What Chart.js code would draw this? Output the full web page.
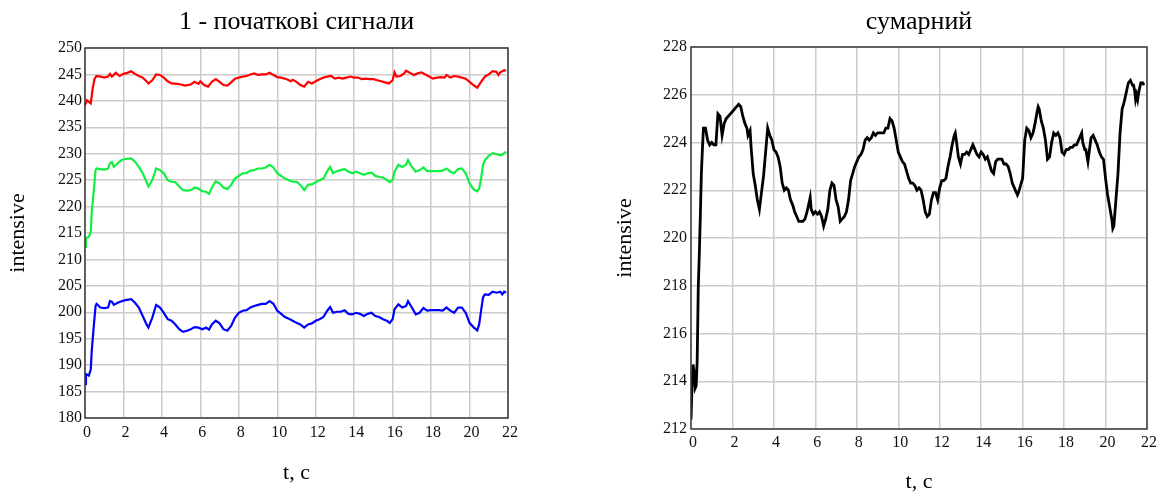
<!DOCTYPE html>
<html lang="uk">
<head>
  <meta charset="UTF-8">
  <title>Сигнали</title>
  <script src="https://cdn.jsdelivr.net/npm/chart.js"></script>
  <style>
    html, body {
      margin: 0;
      padding: 0;
      background: #fff;
    }
    .wrap {
      position: relative;
      width: 1164px;
      height: 495px;
    }
    canvas {
      position: absolute;
      top: 0;
    }
    #signals { left: 0; }
    #total { left: 580px; }
  </style>
</head>
<body>
  <div class="wrap">
    <canvas id="signals" width="580" height="495"></canvas>
    <canvas id="total" width="584" height="495"></canvas>
  </div>

  <script>
    // time, s
    const tRed = [0, 0.1, 0.2, 0.3, 0.4, 0.5, 0.6, 0.8, 1.0, 1.2, 1.3, 1.4, 1.6, 1.8, 2.0, 2.2, 2.4, 2.6, 2.8, 3.0,
      3.2, 3.3, 3.5, 3.7, 3.9, 4.1, 4.3, 4.5, 4.8, 5.0, 5.2, 5.5, 5.7, 5.9, 6.0, 6.2, 6.4, 6.6, 6.8, 7.0,
      7.2, 7.4, 7.6, 7.8, 8.0, 8.2, 8.4, 8.6, 8.8, 9.0, 9.2, 9.4, 9.6, 9.8, 10.0, 10.2, 10.5, 10.7, 10.8, 11.0,
      11.2, 11.4, 11.6, 11.8, 12.0, 12.2, 12.4, 12.6, 12.8, 13.0, 13.2, 13.4, 13.6, 13.8, 14.0, 14.2, 14.4, 14.6, 14.8, 15.0,
      15.2, 15.4, 15.6, 15.8, 16.0, 16.1, 16.2, 16.4, 16.6, 16.7, 16.9, 17.1, 17.3, 17.5, 17.7, 17.9, 18.1, 18.3, 18.5, 18.7,
      18.8, 19.0, 19.2, 19.4, 19.6, 19.8, 20.0, 20.2, 20.4, 20.6, 20.8, 21.0, 21.2, 21.4, 21.5, 21.6, 21.8, 21.9];
    const red = [239.2, 240.1, 239.8, 239.5, 242.4, 244.2, 244.7, 244.6, 244.4, 244.6, 245.1, 244.6, 245.3, 244.7, 245.1, 245.3, 245.6, 245.1, 244.7, 244.4,
      243.7, 243.3, 243.9, 245.0, 244.9, 244.4, 243.7, 243.3, 243.2, 243.1, 242.9, 243.1, 243.6, 243.2, 243.7, 243.0, 242.7, 243.6, 244.1, 243.6,
      243.0, 242.9, 243.5, 244.2, 244.4, 244.6, 244.7, 245.0, 245.2, 244.9, 245.0, 245.0, 245.3, 244.9, 244.5, 244.4, 244.1, 243.7, 244.0, 243.6,
      243.0, 242.7, 243.6, 243.3, 243.7, 244.1, 244.4, 244.6, 244.7, 244.2, 244.4, 244.2, 244.4, 244.6, 244.4, 244.4, 244.1, 244.2, 244.1, 244.1,
      243.9, 243.7, 243.5, 243.3, 243.9, 245.4, 244.6, 244.7, 245.2, 245.7, 245.3, 244.9, 245.2, 245.4, 245.0, 244.6, 244.2, 244.4, 244.5, 244.4,
      244.9, 244.4, 244.7, 244.6, 244.4, 244.2, 243.6, 243.0, 242.5, 243.6, 244.6, 245.0, 245.6, 245.5, 244.9, 245.4, 245.8, 245.7];

    const tGB = [0, 0.05, 0.2, 0.3, 0.35, 0.45, 0.55, 0.6, 0.8, 1.0, 1.2, 1.3, 1.4, 1.5, 1.7, 1.9, 2.1, 2.4, 2.6, 2.8,
      3.0, 3.2, 3.3, 3.5, 3.7, 3.9, 4.1, 4.3, 4.5, 4.7, 4.9, 5.1, 5.3, 5.5, 5.7, 5.9, 6.1, 6.3, 6.45, 6.6,
      6.8, 7.0, 7.2, 7.4, 7.6, 7.8, 8.0, 8.2, 8.4, 8.6, 8.8, 9.0, 9.2, 9.4, 9.6, 9.8, 10.0, 10.2, 10.4, 10.6,
      10.8, 11.0, 11.2, 11.4, 11.6, 11.8, 12.0, 12.2, 12.4, 12.6, 12.75, 12.9, 13.1, 13.3, 13.5, 13.7, 13.9, 14.1, 14.3, 14.5,
      14.7, 14.9, 15.1, 15.3, 15.5, 15.7, 15.85, 16.0, 16.1, 16.3, 16.5, 16.7, 16.8, 17.0, 17.2, 17.4, 17.6, 17.8, 18.0, 18.2,
      18.4, 18.6, 18.8, 19.0, 19.2, 19.4, 19.6, 19.8, 20.0, 20.2, 20.4, 20.5, 20.6, 20.7, 20.8, 21.0, 21.2, 21.4, 21.6, 21.7,
      21.8, 21.9];
    const green = [212.4, 214.0, 214.3, 215.2, 219.0, 222.8, 226.9, 227.2, 227.1, 227.0, 227.2, 228.2, 228.4, 227.5, 228.2, 228.8, 229.0, 229.1, 228.5, 227.5,
      226.3, 224.7, 223.8, 225.0, 227.2, 226.9, 226.3, 225.0, 224.7, 224.6, 223.8, 223.1, 223.0, 223.1, 223.6, 223.4, 222.9, 222.8, 222.4, 223.6,
      224.8, 224.4, 223.6, 223.3, 224.1, 225.3, 225.8, 226.3, 226.3, 226.8, 226.9, 227.2, 227.2, 227.4, 227.9, 227.4, 226.3, 225.8, 225.3, 225.0,
      224.7, 224.7, 224.1, 223.1, 224.1, 224.2, 224.6, 225.0, 225.3, 226.7, 227.5, 226.3, 226.7, 226.9, 227.1, 226.6, 226.3, 226.6, 226.3, 226.0,
      226.3, 226.4, 225.8, 225.6, 225.5, 225.0, 224.6, 225.0, 226.6, 227.9, 227.5, 227.9, 228.8, 227.5, 226.6, 226.9, 227.4, 226.7, 226.7, 226.7,
      226.7, 226.8, 227.2, 226.6, 226.3, 227.1, 227.2, 226.3, 224.4, 223.3, 222.9, 223.4, 225.3, 227.9, 228.8, 229.6, 230.1, 229.9, 229.7, 229.8,
      230.1, 230.4];
    const blue = [186.4, 188.3, 188.0, 189.2, 192.7, 197.1, 201.2, 201.6, 200.9, 200.8, 200.9, 202.1, 202.0, 201.4, 201.8, 202.1, 202.3, 202.5, 201.8, 200.9,
      199.3, 197.7, 197.1, 199.0, 201.4, 200.9, 199.9, 198.7, 198.4, 197.7, 196.8, 196.3, 196.5, 196.8, 197.2, 197.1, 196.8, 197.1, 196.7, 197.7,
      198.4, 197.9, 196.8, 196.5, 197.4, 199.0, 199.9, 200.3, 200.4, 200.9, 201.2, 201.4, 201.6, 201.6, 202.1, 201.6, 200.3, 199.7, 199.1, 198.8,
      198.4, 198.0, 197.7, 197.1, 197.7, 197.9, 198.4, 198.7, 199.1, 200.3, 201.0, 199.9, 200.1, 200.1, 200.4, 199.7, 199.6, 199.9, 199.7, 199.3,
      199.7, 199.9, 199.3, 199.1, 198.7, 198.4, 198.0, 198.7, 200.6, 201.5, 200.9, 201.2, 202.1, 200.9, 199.6, 199.9, 200.8, 200.3, 200.4, 200.4,
      200.4, 200.3, 200.9, 200.3, 199.9, 200.9, 200.9, 199.9, 198.0, 197.2, 196.6, 197.7, 200.3, 202.8, 203.4, 203.3, 203.9, 203.7, 203.9, 203.4,
      203.9, 203.7];

    const tSum = [0, 0.05, 0.1, 0.15, 0.2, 0.25, 0.3, 0.35, 0.4, 0.45, 0.5, 0.55, 0.6, 0.7, 0.8, 0.9, 1.0, 1.1, 1.2, 1.3,
      1.4, 1.5, 1.6, 1.7, 1.8, 1.9, 2.0, 2.1, 2.2, 2.3, 2.4, 2.5, 2.6, 2.7, 2.75, 2.85, 2.9, 3.0, 3.1, 3.2,
      3.3, 3.4, 3.5, 3.6, 3.7, 3.8, 3.9, 4.0, 4.1, 4.2, 4.3, 4.4, 4.5, 4.6, 4.7, 4.8, 4.9, 5.0, 5.1, 5.2,
      5.4, 5.5, 5.6, 5.7, 5.75, 5.8, 5.9, 6.0, 6.1, 6.2, 6.3, 6.4, 6.5, 6.6, 6.7, 6.8, 6.9, 7.0, 7.1, 7.2,
      7.3, 7.4, 7.5, 7.6, 7.7, 7.8, 7.9, 8.0, 8.1, 8.2, 8.3, 8.4, 8.5, 8.6, 8.7, 8.8, 8.9, 9.0, 9.1, 9.2,
      9.3, 9.4, 9.5, 9.6, 9.7, 9.8, 9.9, 10.0, 10.1, 10.2, 10.3, 10.4, 10.5, 10.6, 10.7, 10.8, 10.9, 11.0, 11.1, 11.2,
      11.3, 11.4, 11.5, 11.6, 11.7, 11.8, 11.9, 12.0, 12.1, 12.2, 12.3, 12.4, 12.5, 12.6, 12.7, 12.75, 12.8, 12.9, 13.0, 13.1,
      13.2, 13.3, 13.4, 13.5, 13.6, 13.7, 13.8, 13.9, 14.0, 14.1, 14.2, 14.3, 14.4, 14.5, 14.6, 14.7, 14.8, 14.9, 15.0, 15.1,
      15.2, 15.3, 15.4, 15.5, 15.6, 15.7, 15.75, 15.8, 15.9, 16.0, 16.1, 16.2, 16.3, 16.4, 16.5, 16.6, 16.7, 16.75, 16.8, 16.9,
      17.0, 17.1, 17.2, 17.3, 17.4, 17.5, 17.6, 17.7, 17.8, 17.9, 18.0, 18.1, 18.2, 18.3, 18.4, 18.5, 18.6, 18.7, 18.8, 18.85,
      18.9, 19.0, 19.05, 19.15, 19.3, 19.4, 19.5, 19.6, 19.7, 19.8, 19.9, 20.0, 20.1, 20.2, 20.3, 20.35, 20.4, 20.5, 20.6, 20.7,
      20.8, 20.9, 21.0, 21.1, 21.2, 21.3, 21.35, 21.4, 21.45, 21.5, 21.55, 21.6, 21.7, 21.8, 21.85];
    const sum = [212.4, 213.8, 214.7, 214.4, 213.7, 213.8, 214.9, 217.9, 219.3, 220.9, 222.7, 223.7, 224.6, 224.6, 224.1, 223.9, 224.0, 223.9, 223.9, 225.2,
      225.1, 224.3, 224.8, 225.0, 225.1, 225.2, 225.3, 225.4, 225.5, 225.6, 225.5, 225.1, 224.8, 224.6, 224.3, 224.5, 223.8, 222.7, 222.2, 221.6,
      221.2, 221.9, 222.6, 223.6, 224.6, 224.3, 224.1, 223.7, 223.6, 223.4, 223.0, 222.3, 222.0, 222.1, 222.0, 221.6, 221.4, 221.1, 220.9, 220.7,
      220.7, 220.8, 221.1, 221.5, 221.7, 221.2, 221.0, 221.1, 221.0, 221.1, 220.9, 220.5, 220.8, 221.2, 222.0, 222.3, 222.2, 221.6, 221.3, 220.7,
      220.8, 220.9, 221.1, 221.6, 222.4, 222.7, 223.0, 223.2, 223.4, 223.5, 223.7, 224.1, 224.2, 224.1, 224.2, 224.4, 224.3, 224.4, 224.4, 224.4,
      224.4, 224.6, 224.6, 225.0, 224.9, 224.6, 224.1, 223.6, 223.4, 223.2, 223.1, 222.8, 222.5, 222.3, 222.3, 222.2, 222.0, 222.1, 222.0, 221.6,
      221.1, 220.9, 221.0, 221.6, 221.9, 221.9, 221.6, 222.1, 222.4, 222.4, 222.5, 223.0, 223.4, 223.9, 224.3, 224.4, 224.1, 223.4, 223.1, 223.5,
      223.5, 223.6, 223.5, 223.7, 223.9, 223.7, 223.5, 223.4, 223.6, 223.5, 223.3, 223.4, 223.1, 222.8, 222.7, 223.2, 223.3, 223.3, 223.3, 223.1,
      223.1, 223.0, 222.7, 222.3, 222.1, 221.9, 221.8, 221.9, 222.2, 222.5, 224.1, 224.6, 224.5, 224.2, 224.4, 224.8, 225.3, 225.5, 225.4, 224.9,
      224.6, 224.1, 223.3, 223.4, 224.0, 224.4, 224.3, 224.4, 224.2, 223.6, 223.5, 223.7, 223.7, 223.8, 223.8, 223.9, 223.9, 224.1, 224.3, 224.4,
      224.0, 223.7, 223.7, 223.2, 224.2, 224.3, 224.1, 223.9, 223.6, 223.4, 223.3, 222.5, 221.8, 221.3, 220.8, 220.4, 220.5, 221.6, 222.7, 224.4,
      225.4, 225.7, 226.1, 226.5, 226.6, 226.4, 226.4, 226.2, 225.8, 226.0, 225.8, 226.1, 226.5, 226.5, 226.4];

    const SERIF = "'Liberation Serif', 'Times New Roman', serif";
    const GRID = '#cbcbcb';

    function points(ts, vs) {
      const n = Math.min(ts.length, vs.length);
      const out = [];
      for (let i = 0; i < n; i++) out.push({ x: ts[i], y: vs[i] });
      return out;
    }

    function series(ts, vs, color, width) {
      return {
        data: points(ts, vs),
        borderColor: color,
        borderWidth: width,
        pointRadius: 0,
        tension: 0,
        fill: false
      };
    }

    // dark frame round the plot area
    const frame = {
      id: 'frame',
      afterDatasetsDraw(chart) {
        const { ctx, chartArea: a } = chart;
        ctx.save();
        ctx.strokeStyle = '#3a3a3a';
        ctx.lineWidth = 1.5;
        ctx.strokeRect(a.left, a.top, a.right - a.left, a.bottom - a.top);
        ctx.restore();
      }
    };

    function createChart(id, cfg) {
      const ctx = document.getElementById(id).getContext('2d');
      return new Chart(ctx, {
        type: 'line',
        data: { datasets: cfg.datasets },
        plugins: [frame],
        options: {
          responsive: false,
          animation: false,
          layout: { padding: { left: 0, right: cfg.padRight, top: 0, bottom: 0 } },
          plugins: {
            legend: { display: false },
            tooltip: { enabled: false },
            title: {
              display: true,
              text: cfg.title,
              fullSize: false,
              color: '#000',
              font: { family: SERIF, size: 26, weight: 'normal' },
              padding: { top: 7, bottom: cfg.top - 7 - 31.2 }
            }
          },
          scales: {
            x: {
              type: 'linear',
              min: 0,
              max: 22,
              afterFit: s => { s.height = cfg.xHeight; },
              ticks: {
                stepSize: 2,
                padding: cfg.xTickPad,
                labelOffset: 2,
                maxRotation: 0,
                color: '#111',
                font: { family: SERIF, size: 16 }
              },
              grid: { color: GRID, lineWidth: 1.5, drawTicks: false },
              border: { display: false },
              title: {
                display: true,
                text: 't, c',
                color: '#000',
                font: { family: SERIF, size: 22 },
                padding: { top: 0, bottom: cfg.xTitlePad }
              }
            },
            y: {
              min: cfg.yMin,
              max: cfg.yMax,
              afterFit: s => { s.width = cfg.yWidth; },
              ticks: {
                stepSize: cfg.yStep,
                padding: cfg.yTickPad,
                color: '#111',
                font: { family: SERIF, size: 16 }
              },
              grid: { color: GRID, lineWidth: 1.5, drawTicks: false },
              border: { display: false },
              title: {
                display: true,
                text: 'intensive',
                color: '#000',
                font: { family: SERIF, size: 22 },
                padding: { top: cfg.yTitlePad, bottom: 0 }
              }
            }
          }
        }
      });
    }

    createChart('signals', {
      title: '1 - початкові сигнали',
      datasets: [
        series(tRed, red, '#ff0000', 2.2),
        series(tGB, green, '#10f040', 2.2),
        series(tGB, blue, '#0000ff', 2.2)
      ],
      top: 48, padRight: 72, xHeight: 77, yWidth: 85,
      yMin: 180, yMax: 250, yStep: 5,
      xTickPad: 5, yTickPad: 3, xTitlePad: 9, yTitlePad: 5
    });

    createChart('total', {
      title: 'сумарний',
      datasets: [series(tSum, sum, '#000000', 2.8)],
      top: 47, padRight: 17, xHeight: 66, yWidth: 111,
      yMin: 212, yMax: 228, yStep: 2,
      xTickPad: 4, yTickPad: 4, xTitlePad: 0, yTitlePad: 32
    });
  </script>
</body>
</html>
